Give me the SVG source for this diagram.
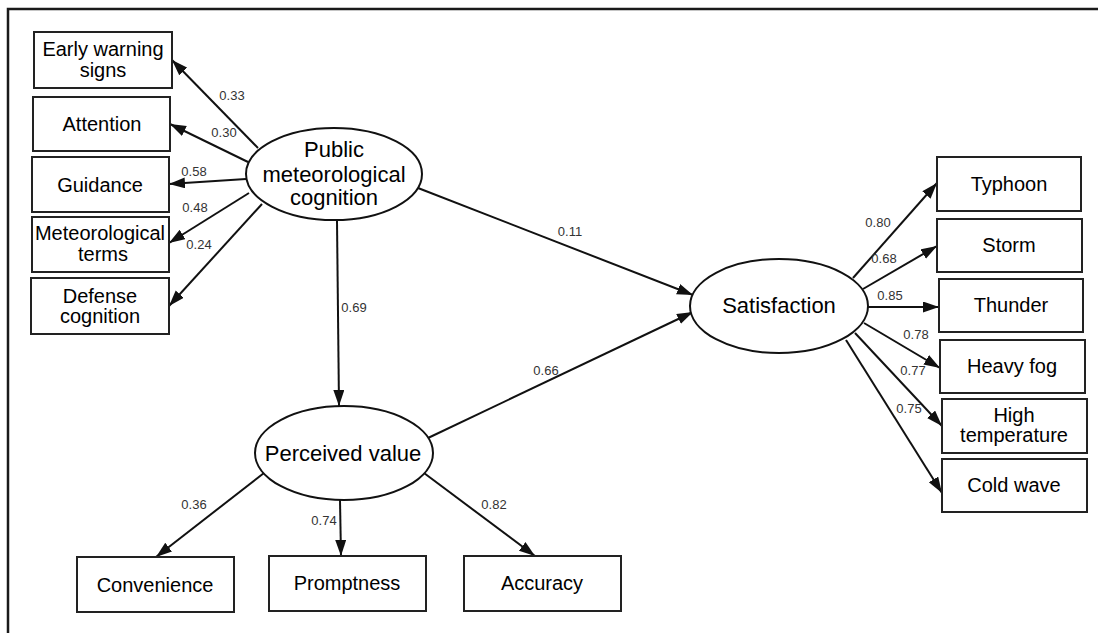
<svg xmlns="http://www.w3.org/2000/svg" width="1098" height="633" viewBox="0 0 1098 633">
<style>
.box{fill:#fff;stroke:#222;stroke-width:2}
.ell{fill:#fff;stroke:#111;stroke-width:2}
.t{font-family:"Liberation Sans",Arial,sans-serif;font-size:20px;fill:#000;text-anchor:middle}
.te{font-family:"Liberation Sans",Arial,sans-serif;font-size:22px;fill:#000;text-anchor:middle}
.lb{font-family:"Liberation Sans",Arial,sans-serif;font-size:13px;fill:#333;text-anchor:middle}
.c line{stroke:#111;stroke-width:2;marker-end:url(#ah)}
.frame{stroke:#1a1a1a;stroke-width:2.5;fill:none}
</style>
<defs>
<marker id="ah" markerUnits="userSpaceOnUse" markerWidth="17" markerHeight="12" refX="16" refY="5.5" orient="auto">
<path d="M0,0 L16,5.5 L0,11 z" fill="#111"/>
</marker>
</defs>
<rect width="1098" height="633" fill="#fff"/>
<path class="frame" d="M8,633 L8,9 L1098,9"/>

<g class="c" id="connectors">
<line x1="258" y1="148" x2="172" y2="60"/>
<line x1="248" y1="162" x2="170" y2="124"/>
<line x1="246" y1="179" x2="169" y2="184"/>
<line x1="249" y1="193" x2="169" y2="243"/>
<line x1="262" y1="204" x2="169" y2="306"/>
<line x1="337" y1="221" x2="339" y2="406"/>
<line x1="418" y1="188" x2="693" y2="295"/>
<line x1="428" y1="438" x2="693" y2="312"/>
<line x1="853" y1="278" x2="937" y2="183"/>
<line x1="863" y1="289" x2="937" y2="246"/>
<line x1="868" y1="307" x2="939" y2="307"/>
<line x1="864" y1="323" x2="940" y2="368"/>
<line x1="855" y1="333" x2="942" y2="426"/>
<line x1="846" y1="340" x2="942" y2="493"/>
<line x1="264" y1="473" x2="156" y2="557"/>
<line x1="340" y1="500" x2="341" y2="556"/>
<line x1="424" y1="473" x2="535" y2="556"/>
</g>

<g id="labels">
<text class="lb" x="232" y="100">0.33</text>
<text class="lb" x="224" y="137">0.30</text>
<text class="lb" x="194" y="176">0.58</text>
<text class="lb" x="195" y="212">0.48</text>
<text class="lb" x="199" y="249">0.24</text>
<text class="lb" x="354" y="312">0.69</text>
<text class="lb" x="570" y="236">0.11</text>
<text class="lb" x="546" y="375">0.66</text>
<text class="lb" x="878" y="227">0.80</text>
<text class="lb" x="884" y="263">0.68</text>
<text class="lb" x="890" y="300">0.85</text>
<text class="lb" x="916" y="339">0.78</text>
<text class="lb" x="913" y="375">0.77</text>
<text class="lb" x="909" y="413">0.75</text>
<text class="lb" x="194" y="509">0.36</text>
<text class="lb" x="324" y="525">0.74</text>
<text class="lb" x="494" y="509">0.82</text>
</g>

<g id="early-warning-signs"><rect class="box" x="34" y="32" width="138" height="56"/><text class="t" x="103" y="56">Early warning</text><text class="t" x="103" y="77">signs</text></g>
<g id="attention"><rect class="box" x="33" y="97" width="137" height="54"/><text class="t" x="102" y="131">Attention</text></g>
<g id="guidance"><rect class="box" x="32" y="157" width="137" height="55"/><text class="t" x="100" y="192">Guidance</text></g>
<g id="meteorological-terms"><rect class="box" x="32" y="217" width="137" height="55"/><text class="t" x="100" y="240">Meteorological</text><text class="t" x="103" y="261">terms</text></g>
<g id="defense-cognition"><rect class="box" x="31" y="278" width="138" height="56"/><text class="t" x="100" y="303">Defense</text><text class="t" x="100" y="323">cognition</text></g>

<g id="public-meteorological-cognition"><ellipse class="ell" cx="334" cy="174" rx="88" ry="46"/><text class="te" x="334" y="157">Public</text><text class="te" x="334" y="182">meteorological</text><text class="te" x="334" y="205">cognition</text></g>

<g id="satisfaction"><ellipse class="ell" cx="779" cy="306" rx="89" ry="47"/><text class="te" x="779" y="313">Satisfaction</text></g>

<g id="perceived-value"><ellipse class="ell" cx="344" cy="453" rx="89" ry="47"/><text class="te" x="343" y="461">Perceived value</text></g>

<g id="typhoon"><rect class="box" x="937" y="157" width="144" height="54"/><text class="t" x="1009" y="191">Typhoon</text></g>
<g id="storm"><rect class="box" x="937" y="219" width="145" height="53"/><text class="t" x="1009" y="252">Storm</text></g>
<g id="thunder"><rect class="box" x="939" y="279" width="144" height="53"/><text class="t" x="1011" y="312">Thunder</text></g>
<g id="heavy-fog"><rect class="box" x="940" y="340" width="145" height="53"/><text class="t" x="1012" y="373">Heavy fog</text></g>
<g id="high-temperature"><rect class="box" x="942" y="399" width="145" height="54"/><text class="t" x="1014" y="422">High</text><text class="t" x="1014" y="442">temperature</text></g>
<g id="cold-wave"><rect class="box" x="942" y="459" width="145" height="53"/><text class="t" x="1014" y="492">Cold wave</text></g>

<g id="convenience"><rect class="box" x="77" y="557" width="157" height="55"/><text class="t" x="155" y="592">Convenience</text></g>
<g id="promptness"><rect class="box" x="269" y="556" width="157" height="55"/><text class="t" x="347" y="590">Promptness</text></g>
<g id="accuracy"><rect class="box" x="464" y="556" width="157" height="55"/><text class="t" x="542" y="590">Accuracy</text></g>
</svg>
